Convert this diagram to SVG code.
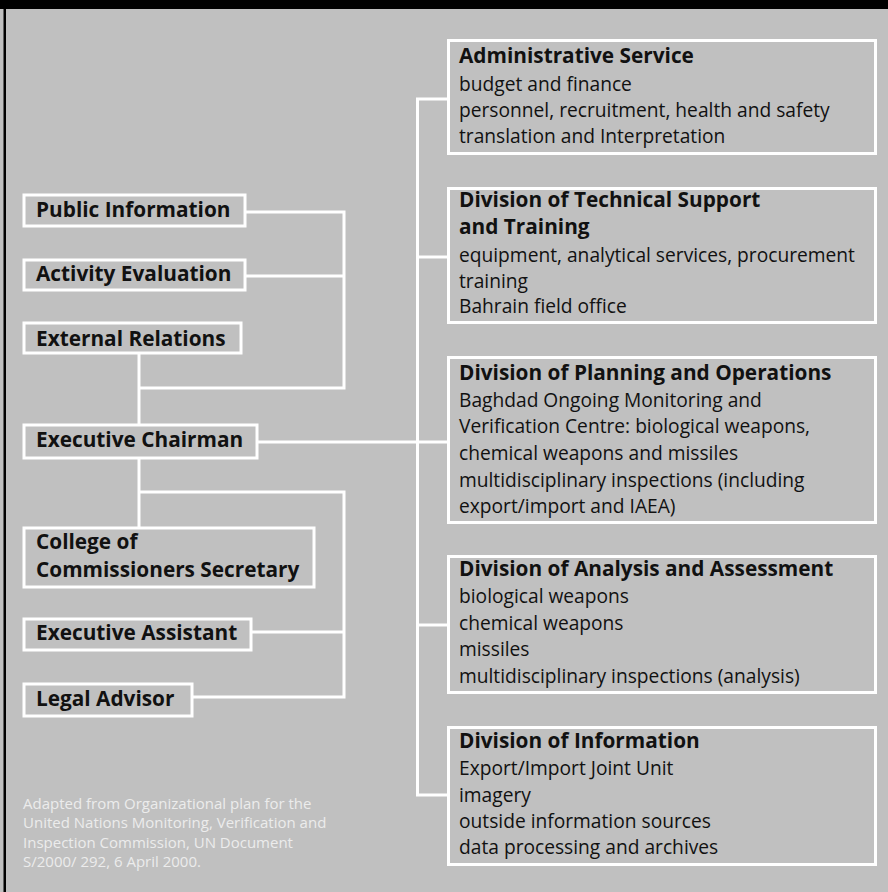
<svg xmlns="http://www.w3.org/2000/svg" width="888" height="892" viewBox="0 0 888 892">
  <style>
    .box { fill: #c0c0c0; stroke: #ffffff; stroke-width: 3; }
    .wire { fill: none; stroke: #ffffff; stroke-width: 3; }
    .head { font-family: "Open Sans", "DejaVu Sans", sans-serif; font-weight: bold; font-size: 20.8px; fill: #111111; }
    .item { font-family: "Open Sans", "DejaVu Sans", sans-serif; font-size: 19.2px; fill: #111111; }
    .note { font-family: "Open Sans", "DejaVu Sans", sans-serif; font-size: 15px; fill: #ececec; }
  </style>

  <!-- page background and frame -->
  <rect x="0" y="0" width="888" height="892" fill="#c0c0c0"/>
  <rect x="0" y="0" width="888" height="9" fill="#000000"/>
  <rect x="3.5" y="0" width="2.5" height="892" fill="#000000"/>

  <!-- connectors -->
  <g id="connectors" class="wire">
    <path d="M245 212 H344 V388 H139"/>
    <path d="M245 276 H344"/>
    <path d="M139 353 V425"/>
    <path d="M139 458 V528"/>
    <path d="M139 492 H344 V697 H192"/>
    <path d="M251 632 H344"/>
    <path d="M257 442 H448"/>
    <path d="M448 99 H417.5 V795 H448"/>
    <path d="M417.5 257 H448"/>
    <path d="M417.5 625 H448"/>
  </g>

  <!-- staff offices -->
  <g id="public-information">
    <rect class="box" x="24" y="195" width="221" height="31"/>
    <text class="head" x="36" y="217">Public Information</text>
  </g>
  <g id="activity-evaluation">
    <rect class="box" x="24" y="260" width="221" height="30"/>
    <text class="head" x="36" y="281">Activity Evaluation</text>
  </g>
  <g id="external-relations">
    <rect class="box" x="24" y="323" width="217" height="30"/>
    <text class="head" x="36" y="346">External Relations</text>
  </g>
  <g id="executive-chairman">
    <rect class="box" x="24" y="425" width="233" height="33"/>
    <text class="head" x="36" y="447">Executive Chairman</text>
  </g>
  <g id="college-secretary">
    <rect class="box" x="24" y="528" width="290" height="59"/>
    <text class="head" x="36" y="549">College of</text>
    <text class="head" x="36" y="577">Commissioners Secretary</text>
  </g>
  <g id="executive-assistant">
    <rect class="box" x="24" y="619" width="227" height="31"/>
    <text class="head" x="36" y="640">Executive Assistant</text>
  </g>
  <g id="legal-advisor">
    <rect class="box" x="24" y="684" width="168" height="32"/>
    <text class="head" x="36" y="706">Legal Advisor</text>
  </g>

  <!-- divisions -->
  <g id="administrative-service">
    <rect class="box" x="448.5" y="40.5" width="427" height="113"/>
    <text class="head" x="459" y="63">Administrative Service</text>
    <text class="item" x="459" y="91">budget and finance</text>
    <text class="item" x="459" y="117">personnel, recruitment, health and safety</text>
    <text class="item" x="459" y="143">translation and Interpretation</text>
  </g>
  <g id="technical-support">
    <rect class="box" x="448.5" y="188.5" width="427" height="134"/>
    <text class="head" x="459" y="207">Division of Technical Support</text>
    <text class="head" x="459" y="234">and Training</text>
    <text class="item" x="459" y="262">equipment, analytical services, procurement</text>
    <text class="item" x="459" y="288">training</text>
    <text class="item" x="459" y="313">Bahrain field office</text>
  </g>
  <g id="planning-operations">
    <rect class="box" x="448.5" y="357.5" width="427" height="165"/>
    <text class="head" x="459" y="380">Division of Planning and Operations</text>
    <text class="item" x="459" y="407">Baghdad Ongoing Monitoring and</text>
    <text class="item" x="459" y="433">Verification Centre: biological weapons,</text>
    <text class="item" x="459" y="460">chemical weapons and missiles</text>
    <text class="item" x="459" y="487">multidisciplinary inspections (including</text>
    <text class="item" x="459" y="513">export/import and IAEA)</text>
  </g>
  <g id="analysis-assessment">
    <rect class="box" x="448.5" y="556.5" width="427" height="136"/>
    <text class="head" x="459" y="576">Division of Analysis and Assessment</text>
    <text class="item" x="459" y="603">biological weapons</text>
    <text class="item" x="459" y="630">chemical weapons</text>
    <text class="item" x="459" y="656">missiles</text>
    <text class="item" x="459" y="683">multidisciplinary inspections (analysis)</text>
  </g>
  <g id="information">
    <rect class="box" x="448.5" y="727.5" width="427" height="137"/>
    <text class="head" x="459" y="748">Division of Information</text>
    <text class="item" x="459" y="775">Export/Import Joint Unit</text>
    <text class="item" x="459" y="802">imagery</text>
    <text class="item" x="459" y="828">outside information sources</text>
    <text class="item" x="459" y="854">data processing and archives</text>
  </g>

  <!-- source note -->
  <g id="source-note" class="note">
    <text x="23" y="809">Adapted from Organizational plan for the</text>
    <text x="23" y="828">United Nations Monitoring, Verification and</text>
    <text x="23" y="848">Inspection Commission, UN Document</text>
    <text x="23" y="867">S/2000/ 292, 6 April 2000.</text>
  </g>
</svg>
